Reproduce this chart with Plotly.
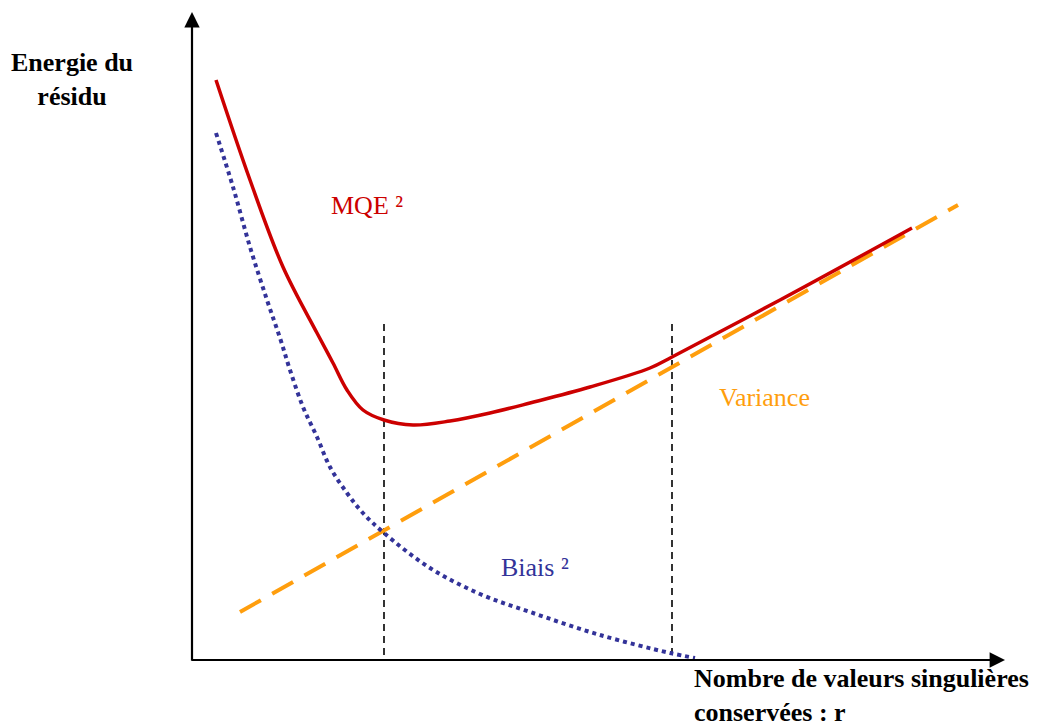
import plotly.graph_objects as go

# Chart units: x = horizontal position from origin, y = height above the x axis
mqe_x = [24, 58, 91, 125, 141, 155, 171, 192, 221, 258, 298, 338, 398, 458, 480, 588, 720]
mqe_y = [580, 480, 393, 327, 297, 270, 250, 240, 235, 239, 247, 257, 273, 292, 303, 360, 432]

biais_x = [24, 41, 58, 75, 88, 98, 111, 125, 138, 155, 170, 192, 238, 288, 338, 408, 478, 503]
biais_y = [527, 473, 413, 360, 322, 290, 253, 223, 193, 167, 148, 127, 92, 66, 48, 25, 7, 2]

var_x = [48, 766]
var_y = [48, 455]

vline1_x = [192, 192]
vline2_x = [480, 480]
vline_y = [5, 338]

fig = go.Figure()

fig.add_trace(go.Scatter(x=vline1_x, y=vline_y, mode="lines",
                         line=dict(color="black", width=1.6, dash="7px,5px"),
                         hoverinfo="skip"))
fig.add_trace(go.Scatter(x=vline2_x, y=vline_y, mode="lines",
                         line=dict(color="black", width=1.6, dash="7px,5px"),
                         hoverinfo="skip"))
fig.add_trace(go.Scatter(x=var_x, y=var_y, mode="lines",
                         line=dict(color="#FF9E0D", width=4, dash="24px,13px"),
                         name="Variance"))
fig.add_trace(go.Scatter(x=biais_x, y=biais_y, mode="lines",
                         line=dict(color="#333399", width=4, dash="dot", shape="spline", smoothing=1.0),
                         name="Biais ²"))
fig.add_trace(go.Scatter(x=mqe_x, y=mqe_y, mode="lines",
                         line=dict(color="#CC0000", width=3.5, shape="spline", smoothing=1.0),
                         name="MQE ²"))

serif = "Liberation Serif, Times New Roman, serif"

annotations = [
    # axes with arrows
    dict(x=813, y=0, ax=-2, ay=0, xref="x", yref="y", axref="x", ayref="y",
         showarrow=True, arrowhead=2, arrowsize=1.4, arrowwidth=2.2, arrowcolor="black", text=""),
    dict(x=0, y=648, ax=0, ay=-2, xref="x", yref="y", axref="x", ayref="y",
         showarrow=True, arrowhead=2, arrowsize=1.4, arrowwidth=2.2, arrowcolor="black", text=""),
    # labels
    dict(x=-120, y=581, xref="x", yref="y", showarrow=False, align="center",
         text="<b>Energie du<br>résidu</b>", font=dict(family=serif, size=26, color="black")),
    dict(x=500, y=-35, xref="x", yref="y", showarrow=False, align="left", xanchor="left",
         text="<b>Nombre de valeurs singulières<br>conservées : r</b>",
         font=dict(family=serif, size=26, color="black")),
    dict(x=175, y=455, xref="x", yref="y", showarrow=False,
         text="MQE ²", font=dict(family=serif, size=26, color="#CC0000")),
    dict(x=572, y=263, xref="x", yref="y", showarrow=False,
         text="Variance", font=dict(family=serif, size=26, color="#FF9E0D")),
    dict(x=343, y=93, xref="x", yref="y", showarrow=False,
         text="Biais ²", font=dict(family=serif, size=26, color="#333399")),
]

fig.update_layout(
    width=1039, height=728,
    margin=dict(l=0, r=0, t=0, b=0),
    paper_bgcolor="white", plot_bgcolor="white",
    showlegend=False,
    xaxis=dict(range=[-192, 847], visible=False, fixedrange=True),
    yaxis=dict(range=[-68, 660], visible=False, fixedrange=True),
    annotations=annotations,
)

fig.write_html("out.html", config={"displayModeBar": False},
               post_script="document.body.style.margin='0';document.body.style.overflow='hidden';")
